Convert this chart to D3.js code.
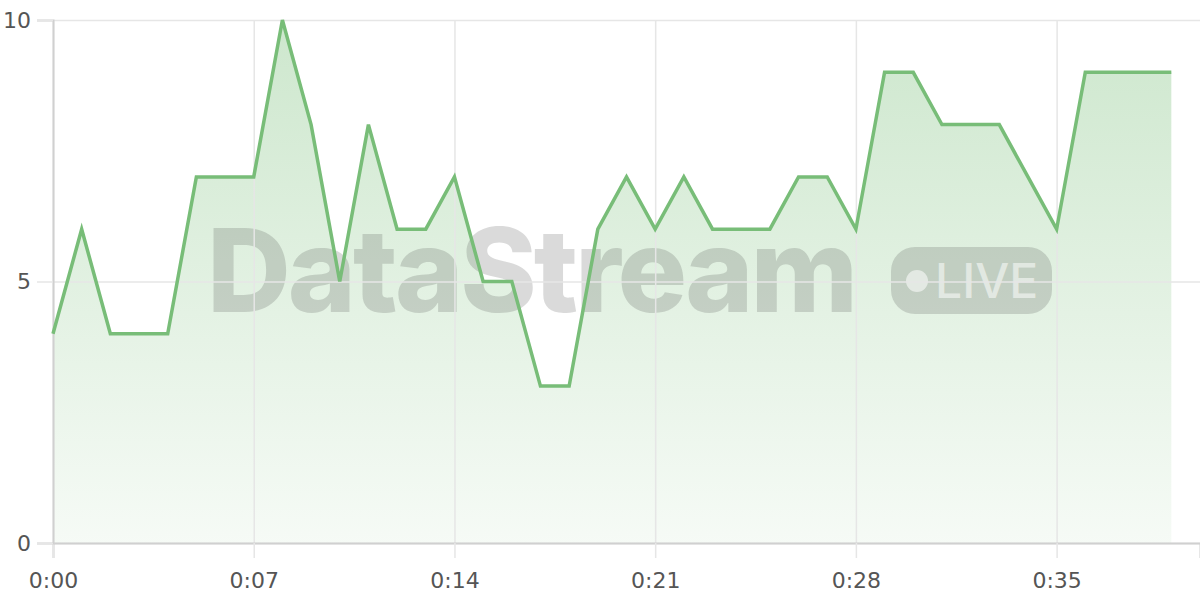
<!DOCTYPE html>
<html>
<head>
<meta charset="utf-8">
<script src="https://cdn.jsdelivr.net/npm/d3@7"></script>
<style>
  html, body { margin: 0; padding: 0; background: #fff; }
  svg { display: block; font-family: "DejaVu Sans", sans-serif; }
</style>
</head>
<body>
<svg></svg>
<script>
// seconds since start and the value read at each second
const seconds = d3.range(0, 40);
const values = [4, 6, 4, 4, 4, 7, 7, 7, 10, 8, 5, 8, 6, 6, 7, 5, 5, 3, 3, 6,
                7, 6, 7, 6, 6, 6, 7, 7, 6, 9, 9, 8, 8, 8, 7, 6, 9, 9, 9, 9];
const xTicks = [0, 7, 14, 21, 28, 35];
const yTicks = [0, 5, 10];

const w = 1200;
const h = 600;
const margin = { top: 20, right: 0, bottom: 57, left: 53 };
const chartW = w - margin.left - margin.right;
const chartH = h - margin.top - margin.bottom;

const svg = d3.select("svg").attr("width", w).attr("height", h);

const defs = svg.append("defs");
const grad = defs.append("linearGradient")
  .attr("id", "fill")
  .attr("x1", 0).attr("y1", 0).attr("x2", 0).attr("y2", 1);
grad.append("stop").attr("offset", "0%").attr("stop-color", "#7cc07c").attr("stop-opacity", 0.38);
grad.append("stop").attr("offset", "100%").attr("stop-color", "#7cc07c").attr("stop-opacity", 0.07);

const chart = svg.append("g")
  .attr("transform", `translate(${margin.left}, ${margin.top})`);

const xScale = d3.scaleLinear().domain([0, 40]).range([0, chartW]);
const yScale = d3.scaleLinear().domain([0, 10]).range([chartH, 0]);

const fmt = s => `${Math.floor(s / 60)}:${String(s % 60).padStart(2, "0")}`;

// area under the line
const area = d3.area()
  .x((d, i) => xScale(seconds[i]))
  .y0(chartH)
  .y1(d => yScale(d));
chart.append("path")
  .datum(values)
  .attr("d", area)
  .attr("fill", "url(#fill)");

// watermark
const wm = chart.append("g").attr("transform", `translate(${-margin.left}, ${-margin.top})`);
wm.append("text")
  .attr("x", 207)
  .attr("y", 312)
  .attr("font-family", "Inter, Roboto, sans-serif")
  .attr("font-weight", 800)
  .attr("font-size", 116)
  .attr("letter-spacing", -3)
  .attr("fill", "rgba(60,60,60,0.19)")
  .text("DataStream");
wm.append("rect")
  .attr("x", 891).attr("y", 247)
  .attr("width", 161).attr("height", 67)
  .attr("rx", 24)
  .attr("fill", "rgba(60,60,60,0.19)");
wm.append("circle")
  .attr("cx", 917).attr("cy", 281).attr("r", 11)
  .attr("fill", "rgba(255,255,255,0.55)");
wm.append("text")
  .attr("x", 935)
  .attr("y", 298)
  .attr("font-family", "Inter, Roboto, sans-serif")
  .attr("font-weight", 500)
  .attr("font-size", 48)
  .attr("fill", "rgba(255,255,255,0.55)")
  .text("LIVE");

// grid lines
chart.append("g")
  .attr("class", "grid")
  .call(d3.axisLeft(yScale).tickValues(yTicks).tickSize(-chartW).tickFormat(""))
  .call(g => g.select(".domain").remove())
  .call(g => g.selectAll("line").attr("stroke", "#e6e6e6").attr("stroke-width", 1.5));
chart.append("g")
  .attr("class", "grid")
  .attr("transform", `translate(0, ${chartH})`)
  .call(d3.axisBottom(xScale).tickValues(xTicks).tickSize(-chartH).tickFormat(""))
  .call(g => g.select(".domain").remove())
  .call(g => g.selectAll("line").attr("stroke", "#e6e6e6").attr("stroke-width", 1.5));

// axes
chart.append("g")
  .attr("transform", `translate(0, ${chartH})`)
  .call(d3.axisBottom(xScale).tickValues(xTicks).tickSize(15).tickPadding(14).tickFormat(fmt))
  .call(g => g.select(".domain").attr("stroke", "#d0d0d0").attr("stroke-width", 2))
  .call(g => g.selectAll("line").attr("stroke", "#e6e6e6").attr("stroke-width", 1.5))
  .call(g => g.selectAll("text").attr("fill", "#555").attr("font-size", 22)
    .attr("font-family", "'DejaVu Sans', sans-serif"));

chart.append("g")
  .call(d3.axisLeft(yScale).tickValues(yTicks).tickSize(16).tickPadding(6))
  .call(g => g.select(".domain").attr("stroke", "#d0d0d0").attr("stroke-width", 2))
  .call(g => g.selectAll("line").attr("stroke", "#e6e6e6").attr("stroke-width", 1.5))
  .call(g => g.selectAll("text").attr("fill", "#555").attr("font-size", 22)
    .attr("font-family", "'DejaVu Sans', sans-serif"));

// the line
const line = d3.line()
  .x((d, i) => xScale(seconds[i]))
  .y(d => yScale(d));
chart.append("path")
  .datum(values)
  .attr("d", line)
  .attr("fill", "none")
  .attr("stroke", "#78bd78")
  .attr("stroke-width", 3.5)
  .attr("stroke-linejoin", "miter");
</script>
</body>
</html>
